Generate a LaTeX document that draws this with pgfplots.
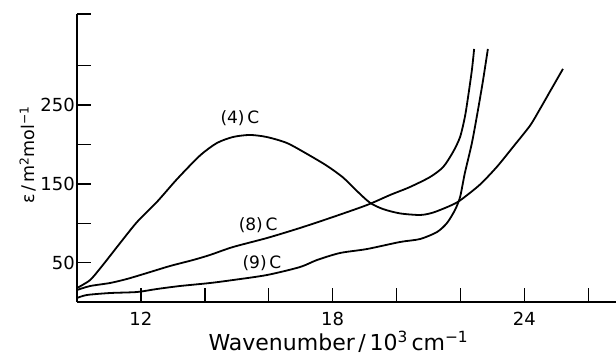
\documentclass[border=0pt]{standalone}
\usepackage{fontspec}
\setmainfont{DejaVu Sans}
\usepackage{pgfplots}
\pgfplotsset{compat=1.18}
\tikzset{curve/.style={black, line width=1.8pt, smooth, tension=0.45, mark=none}}
\begin{document}
\begin{tikzpicture}
\begin{axis}[
  at={(0,0)}, anchor=south west,
  scale only axis, width=539pt, height=288pt,
  xmin=10, xmax=26.87, ymin=0, ymax=365.7,
  axis lines=left, axis line style={-, line width=1.6pt},
  tick align=inside, major tick length=14pt,
  tick style={line width=1.4pt, black},
  xtick={12,14,...,26}, xticklabels={12,,,18,,,24,},
  ytick={50,100,150,200,250,300,365.7}, yticklabels={50,,150,,250,,},
  /pgf/number format/assume math mode=true,
  ticklabel style={font=\fontsize{18}{20}\selectfont},
  xticklabel style={anchor=base, yshift=-23pt},
  yticklabel style={anchor=east, inner sep=0pt, xshift=-2pt},
  xlabel={Wavenumber\,/\,10\textsuperscript{3}\,cm\textsuperscript{\char"2212 1}},
  ylabel={ε\,/\,m\textsuperscript{2}mol\textsuperscript{\char"2212 1}},
  xlabel style={at={(axis description cs:0.485,-0.1667)}, anchor=base, font=\fontsize{22}{24}\selectfont},
  ylabel style={at={(axis description cs:-0.0909,0.51)}, anchor=center, font=\fontsize{17.5}{20}\selectfont},
]
% (4)C
\addplot[curve] coordinates {
(10.00,17.8) (10.41,27.9) (10.81,47) (11.35,74.9) (11.88,101.6) (12.50,127)
(13.13,156) (13.85,186) (14.38,201.9) (14.88,209.5) (15.41,212.1) (15.94,209.5)
(16.57,201.9) (17.20,188) (17.82,173) (18.33,158) (18.76,141) (19.17,126)
(19.58,118) (20.11,112.5) (20.74,110.5) (21.14,113.5) (21.67,122) (21.99,129)
(22.61,149) (23.15,172) (23.65,197) (24.18,224) (24.49,245) (24.80,267) (25.21,296)
};
% (8)C
\addplot[curve] coordinates {
(10.00,15.2) (10.41,20.3) (11.03,24.1) (11.56,29.2) (12.19,36.8) (12.91,45.7)
(13.63,53.3) (14.16,59.7) (14.88,69.8) (15.95,81.3) (16.98,94) (18.01,107.9)
(19.08,123.2) (19.80,135.9) (20.42,146) (21.05,158.7) (21.46,171.4) (21.77,190.5)
(21.99,209.5) (22.14,234.9) (22.24,260.3) (22.36,294.6) (22.43,321.3)
};
% (9)C
\addplot[curve] coordinates {
(10.00,5.1) (10.31,8.9) (11.03,11.4) (11.88,12.7) (12.50,16.5) (13.22,20.3)
(14.16,24.1) (14.88,27.9) (15.95,34.3) (16.98,44.4) (17.51,53.3) (18.23,62.2)
(19.08,67.3) (20.11,76.2) (20.74,80) (21.27,88.9) (21.58,100.3) (21.83,116.8)
(21.99,133.3) (22.14,163.8) (22.36,201.9) (22.55,243.8) (22.71,281.9) (22.86,321.3)
};
\node[font=\fontsize{17}{19}\selectfont] at (axis cs:15.10,233.7) {(4)\,C};
\node[font=\fontsize{17}{19}\selectfont] at (axis cs:15.67,97.8) {(8)\,C};
\node[font=\fontsize{17}{19}\selectfont] at (axis cs:15.79,49.5) {(9)\,C};
\end{axis}
\pgfresetboundingbox
\path[use as bounding box] (-77pt,-52pt) rectangle (539pt,302pt);
\end{tikzpicture}
\end{document}
